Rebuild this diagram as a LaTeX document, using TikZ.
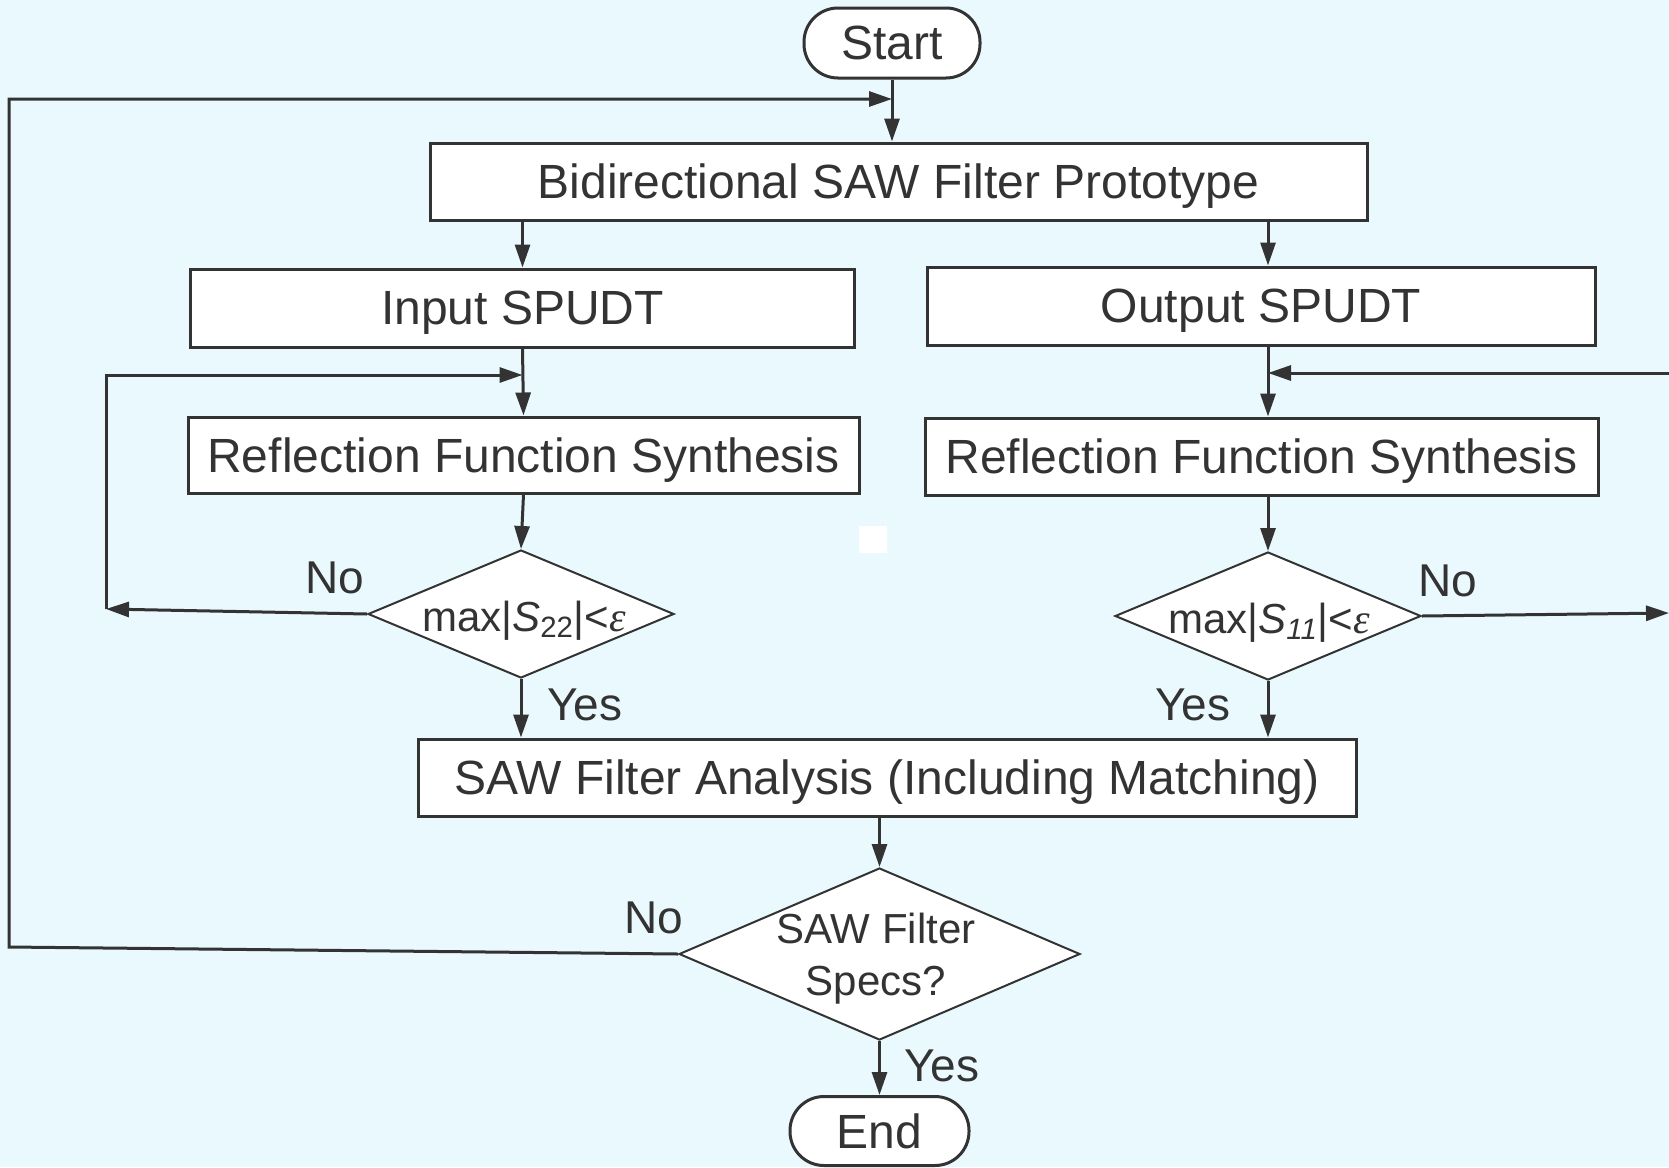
\documentclass[tikz,border=0pt]{standalone}
\usepackage{fontspec}
\setmainfont{Liberation Sans}
\newfontfamily\epsfont{Liberation Serif}
\usetikzlibrary{shapes.geometric,arrows.meta,calc}
\definecolor{bg}{HTML}{E9F9FD}
\definecolor{ln}{HTML}{333333}
\newcommand{\myeps}{{\epsfont\itshape ε}}
\begin{document}
\begin{tikzpicture}[x=0.5pt,y=-0.5pt,
  box/.style={draw=ln,line width=1.5pt,fill=white,inner sep=0pt,text=ln,text depth=0pt,font=\fontsize{24}{28}\selectfont},
  term/.style={box,rounded corners=17pt},
  dia/.style={draw=ln,line width=1pt,fill=white,diamond,inner sep=0pt,minimum width=153pt,minimum height=64pt},
  dtext/.style={text=ln,inner sep=0pt,font=\fontsize{21}{25}\selectfont},
  lab/.style={text=ln,inner sep=0pt,font=\fontsize{23}{27}\selectfont},
  arr/.style={draw=ln,line width=1.5pt,-{Triangle[length=11.5pt,width=7.5pt]}},
  ln/.style={draw=ln,line width=1.5pt}]
\fill[bg] (0,0) rectangle (1669,1167);
\useasboundingbox (0,0) rectangle (1669,1167);
\fill[white] (859,526) rectangle (887,553);

% nodes
\node[term,minimum width=88pt,minimum height=35pt] (start) at (892,43) {Start};
\node[box,minimum width=468.5pt,minimum height=38.5pt] (proto) at (898.5,181.5) {Bidirectional SAW Filter Prototype};
\node[box,minimum width=332pt,minimum height=39pt] (inp) at (522.5,308) {Input SPUDT};
\node[box,minimum width=334pt,minimum height=39pt] (outp) at (1261,306) {Output SPUDT};
\node[box,minimum width=335.5pt,minimum height=38pt] (rin) at (523.5,455) {Reflection Function Synthesis};
\node[box,minimum width=336.5pt,minimum height=38.5pt] (rout) at (1261.5,456.5) {Reflection Function Synthesis};
\node[dia] (dl) at (521,614) {};
\node[dia] (dr) at (1268,616) {};
\node[box,minimum width=469pt,minimum height=38.5pt] (ana) at (887,777.5) {SAW Filter Analysis (Including Matching)};
\node[dia,minimum width=200.5pt,minimum height=86pt] (db) at (879.5,954) {};
\node[term,minimum width=89.5pt,minimum height=34.5pt] (end) at (879.5,1131) {End};

% diamond texts
\node[dtext,anchor=base] (tl) at ($(dl.center)+(3,17)$) {max|\textit{S}\textsubscript{22}|<\myeps};
\node[dtext,anchor=base] (tr) at ($(dr.center)+(1,17)$) {max|\textit{S}\textsubscript{\textit{11}}|<\myeps};
\node[text=ln,inner sep=0pt,align=center,font=\fontsize{21}{26}\selectfont] (tb) at (876,959) {SAW Filter\\Specs?};

% labels
\node[lab] (nol) at (335,578) {No};
\node[lab] (nor) at (1448,581) {No};
\node[lab] (yesl) at (585,705) {Yes};
\node[lab] (yesr) at (1193,705) {Yes};
\node[lab] (nob) at (654,917.5) {No};
\node[lab] (yesb) at (942,1065.5) {Yes};

% helper coordinates
\coordinate (ol1) at (9,947);
\coordinate (ol2) at (9,99);
\coordinate (fl1) at (106,609);
\coordinate (fl2) at (106,375);
\coordinate (fr) at (1669,373);
\coordinate (fr2) at (1669,613);

% connectors
\draw[arr] (start.south) -- (start.south |- proto.north);
\draw[arr] (db.west) -- (ol1) -- (ol2) -- (start.south |- ol2);
\draw[arr] (inp.north |- proto.south) -- (inp.north);
\draw[arr] (dr.north |- proto.south) -- (dr.north |- outp.north);
\draw[arr] (inp.south) -- (rin.north);
\draw[arr] (dl.west) -- (fl1);
\draw[arr] (fl1) -- (fl2) -- (inp.south |- fl2);
\draw[arr] (rin.south) -- (dl.north);
\draw[arr] (dl.south) -- (dl.south |- ana.north);
\draw[arr] (dr.north |- outp.south) -- (dr.north |- rout.north);
\draw[arr] (fr) -- (fr -| dr.north);
\draw[arr] (dr.north |- rout.south) -- (dr.north);
\draw[arr] (dr.east) -- (fr2);
\draw[arr] (dr.south) -- (dr.south |- ana.north);
\draw[arr] (db.north |- ana.south) -- (db.north);
\draw[arr] (db.south) -- (end.north);
\end{tikzpicture}
\end{document}
